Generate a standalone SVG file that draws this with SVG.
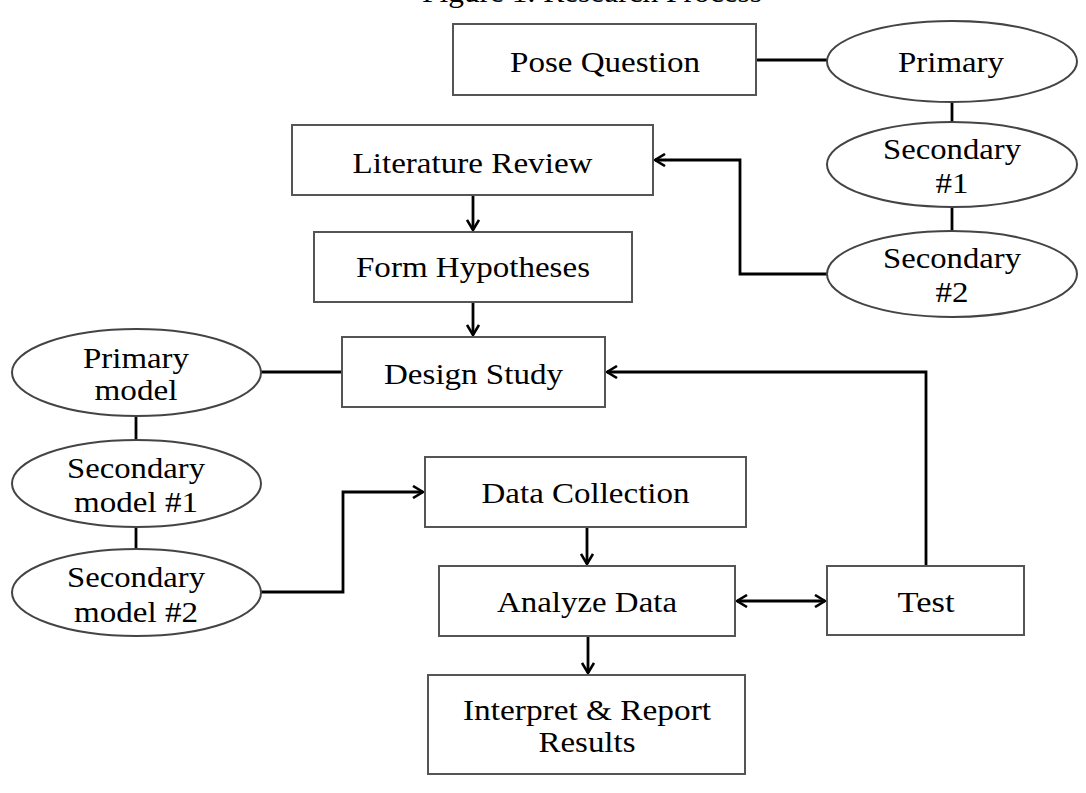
<svg xmlns="http://www.w3.org/2000/svg" width="1086" height="793" viewBox="0 0 1086 793">
<style>
.box{fill:#fff;stroke:#555;stroke-width:2}
.ell{fill:#fff;stroke:#444;stroke-width:2}
.t{font-family:"Liberation Serif","Times New Roman",serif;font-size:29px;fill:#000;text-anchor:middle}
.c{fill:none;stroke:#000;stroke-width:2.8}
</style>
<defs>
<marker id="ah" viewBox="0 0 14 14" refX="12" refY="7" markerWidth="14" markerHeight="14" markerUnits="userSpaceOnUse" orient="auto-start-reverse">
<path d="M2,1 L12,7 L2,13" fill="none" stroke="#000" stroke-width="2.6"/>
</marker>
</defs>
<rect width="1086" height="793" fill="#fff"/>
<text class="t" x="592" y="1.5" font-size="27" textLength="340" lengthAdjust="spacingAndGlyphs">Figure 1. Research Process</text>
<g id="connectors">
<line class="c" x1="756" y1="60" x2="827" y2="60"/>
<line class="c" x1="952" y1="102" x2="952" y2="122"/>
<line class="c" x1="952" y1="207" x2="952" y2="231"/>
<polyline class="c" points="827,274 740,274 740,160 655,160" marker-end="url(#ah)"/>
<line class="c" x1="473" y1="195" x2="473" y2="230" marker-end="url(#ah)"/>
<line class="c" x1="473" y1="302" x2="473" y2="335" marker-end="url(#ah)"/>
<line class="c" x1="261" y1="372" x2="342" y2="372"/>
<polyline class="c" points="926,566 926,372 607,372" marker-end="url(#ah)"/>
<line class="c" x1="136" y1="416" x2="136" y2="440"/>
<line class="c" x1="136" y1="527" x2="136" y2="549"/>
<polyline class="c" points="261,592 343,592 343,492 423,492" marker-end="url(#ah)"/>
<line class="c" x1="587" y1="527" x2="587" y2="564" marker-end="url(#ah)"/>
<line class="c" x1="588" y1="636" x2="588" y2="673" marker-end="url(#ah)"/>
<line class="c" x1="737" y1="601" x2="825" y2="601" marker-start="url(#ah)" marker-end="url(#ah)"/>
</g>
<g id="pose-question">
<rect class="box" x="453" y="24" width="303" height="71"/>
<text class="t" x="605" y="72" textLength="190" lengthAdjust="spacingAndGlyphs">Pose Question</text>
</g>
<g id="primary">
<ellipse class="ell" cx="952" cy="61.5" rx="125" ry="40.5"/>
<text class="t" x="951" y="72" textLength="106" lengthAdjust="spacingAndGlyphs">Primary</text>
</g>
<g id="secondary-1">
<ellipse class="ell" cx="952" cy="164.5" rx="125" ry="42.5"/>
<text class="t" x="952" y="159" textLength="138" lengthAdjust="spacingAndGlyphs">Secondary</text>
<text class="t" x="952" y="193" textLength="33" lengthAdjust="spacingAndGlyphs">#1</text>
</g>
<g id="secondary-2">
<ellipse class="ell" cx="952" cy="274" rx="125" ry="43"/>
<text class="t" x="952" y="268" textLength="138" lengthAdjust="spacingAndGlyphs">Secondary</text>
<text class="t" x="952" y="302" textLength="33" lengthAdjust="spacingAndGlyphs">#2</text>
</g>
<g id="literature-review">
<rect class="box" x="292" y="125" width="361" height="70"/>
<text class="t" x="472.5" y="173" textLength="240" lengthAdjust="spacingAndGlyphs">Literature Review</text>
</g>
<g id="form-hypotheses">
<rect class="box" x="314" y="232" width="318" height="70"/>
<text class="t" x="473" y="277" textLength="234" lengthAdjust="spacingAndGlyphs">Form Hypotheses</text>
</g>
<g id="design-study">
<rect class="box" x="342" y="337" width="263" height="70"/>
<text class="t" x="473.5" y="384" textLength="179" lengthAdjust="spacingAndGlyphs">Design Study</text>
</g>
<g id="primary-model">
<ellipse class="ell" cx="136.5" cy="372.5" rx="124.5" ry="43.5"/>
<text class="t" x="136" y="368" textLength="106" lengthAdjust="spacingAndGlyphs">Primary</text>
<text class="t" x="136" y="400" textLength="83" lengthAdjust="spacingAndGlyphs">model</text>
</g>
<g id="secondary-model-1">
<ellipse class="ell" cx="136.5" cy="483.5" rx="124.5" ry="43.5"/>
<text class="t" x="136" y="478" textLength="138" lengthAdjust="spacingAndGlyphs">Secondary</text>
<text class="t" x="136" y="512" textLength="124" lengthAdjust="spacingAndGlyphs">model #1</text>
</g>
<g id="secondary-model-2">
<ellipse class="ell" cx="136.5" cy="592.5" rx="124.5" ry="43.5"/>
<text class="t" x="136" y="587" textLength="138" lengthAdjust="spacingAndGlyphs">Secondary</text>
<text class="t" x="136" y="622" textLength="124" lengthAdjust="spacingAndGlyphs">model #2</text>
</g>
<g id="data-collection">
<rect class="box" x="425" y="457" width="321" height="70"/>
<text class="t" x="585.5" y="503" textLength="208" lengthAdjust="spacingAndGlyphs">Data Collection</text>
</g>
<g id="analyze-data">
<rect class="box" x="439" y="566" width="296" height="70"/>
<text class="t" x="587" y="612" textLength="180" lengthAdjust="spacingAndGlyphs">Analyze Data</text>
</g>
<g id="test">
<rect class="box" x="827" y="566" width="197" height="69"/>
<text class="t" x="926" y="612" textLength="57" lengthAdjust="spacingAndGlyphs">Test</text>
</g>
<g id="interpret-report">
<rect class="box" x="428" y="675" width="317" height="99"/>
<text class="t" x="587" y="720" textLength="248" lengthAdjust="spacingAndGlyphs">Interpret &amp; Report</text>
<text class="t" x="587" y="752" textLength="97" lengthAdjust="spacingAndGlyphs">Results</text>
</g>
</svg>
